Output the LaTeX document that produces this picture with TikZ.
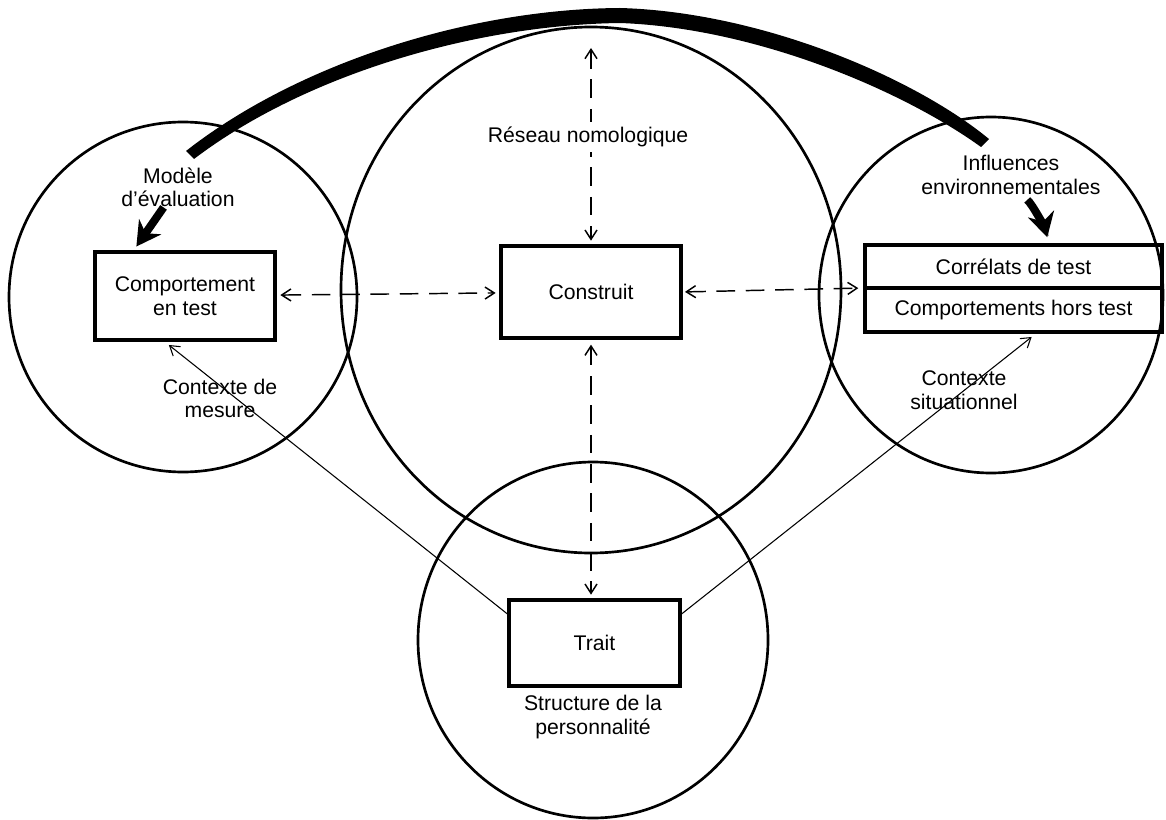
\documentclass[tikz,border=0pt]{standalone}
\usepackage{fontspec}
\setmainfont{Liberation Sans}
\usepackage{tikz}
\usetikzlibrary{positioning,arrows.meta}

\begin{document}
\begin{tikzpicture}[x=0.75pt, y=-0.75pt, >={Straight Barb[length=7pt,width=9pt]},
        font=\fontsize{15.9}{17.6}\selectfont,
        ring/.style={line width=2pt},
        box/.style={draw, rectangle, line width=2.5pt, outer sep=0pt, align=center},
        lbl/.style={align=center, inner sep=0pt},
        link/.style={<->, dash pattern=on 14pt off 8pt, line width=1.1pt},
        ctx/.style={->, line width=0.8pt},
        fat/.style={-{Stealth[length=18pt,width=20pt]}, line width=6pt}]
        \useasboundingbox (0,0) rectangle (1166,820);

        % Define the four circles
        \draw[ring] (183,297) ellipse [x radius=174, y radius=175];
        \draw[ring] (591,290) ellipse [x radius=250, y radius=263];
        \draw[ring] (991,295) ellipse [x radius=172, y radius=178];
        \draw[ring] (593,640) ellipse [x radius=175, y radius=178];

        % Define the boxes
        \node[box, minimum width=135pt, minimum height=66pt] (comp) at (185,296) {Comportement\\en test};
        \node[box, minimum width=135pt, minimum height=69pt] (construit) at (591,292) {Construit};
        \node[box, minimum width=222.75pt, minimum height=32.25pt] (correlats) at (1013.5,266.5) {Corrélats de test};
        \node[box, minimum width=222.75pt, minimum height=33pt, below=0pt of correlats] (hors) {Comportements hors test};
        \node[box, minimum width=128.25pt, minimum height=64.5pt] (trait) at (594.5,643) {Trait};

        % Labels in the circles
        \node[lbl] (modele) at (178,187.5) {Modèle\\d’évaluation};
        \node[lbl] (influences) at (1011,175) {Influences\\environnementales};
        \node[lbl] (mesure) at (220,398.5) {Contexte de\\mesure};
        \node[lbl] (situ) at (964,390) {Contexte\\situationnel};
        \node[lbl] (structure) at (593,717) {Structure de la\\personnalité};

        % Dashed links around the construct
        \coordinate (reseautop) at (591,48);
        \draw[link, shorten >=4pt] (reseautop) -- (construit.north);
        \node[lbl, fill=white, inner sep=4pt] (reseau) at (588,137) {Réseau nomologique};
        \draw[link, shorten <=4pt, shorten >=4pt] (comp) -- (construit);
        \draw[link, shorten <=3pt, shorten >=5pt] (construit.east) -- (correlats.south west);
        \draw[link, shorten <=5pt, shorten >=4pt] (construit.south) -- (construit.south |- trait.north);

        % Context lines from the trait
        \draw[ctx, shorten >=6pt] (trait.162) -- (comp.243);
        \draw[ctx, shorten >=6pt] (trait.18) -- (hors.318);

        % Thick band over the construct, wider at the top
        \fill (186,151) .. controls (297,64) and (468,9) .. (620,8)
            .. controls (762,12) and (915,78) .. (989,139)
            -- (981,147) .. controls (905,92) and (758,28) .. (620,23)
            .. controls (472,25) and (303,76) .. (194,159) -- cycle;
        \draw[fat, shorten >=5pt] (modele.234) -- (comp.140);
        \draw[fat, shorten <=6pt, shorten >=6pt] (influences.297) .. controls +(12,10) and +(-4,-15) .. (correlats.31);
    \end{tikzpicture}
\end{document}
